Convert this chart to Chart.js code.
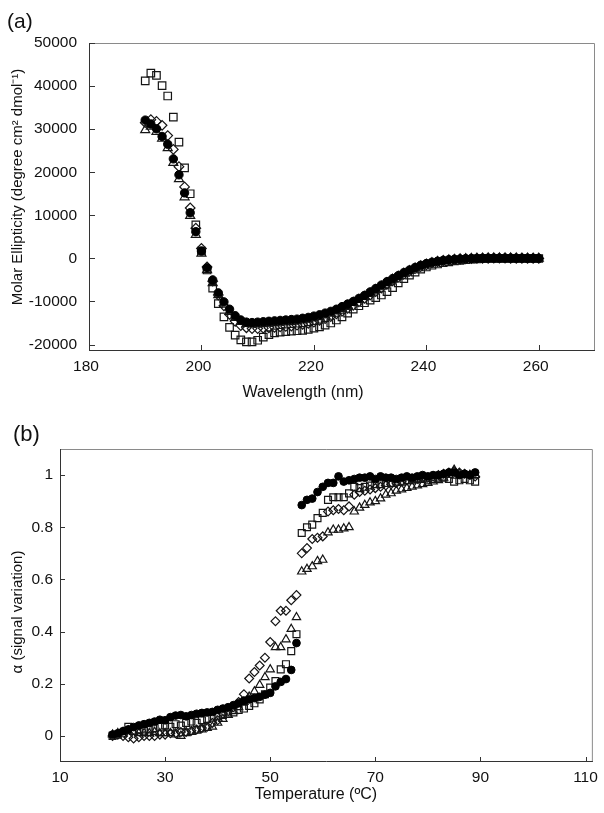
<!DOCTYPE html>
<html><head><meta charset="utf-8">
<script src="https://cdn.jsdelivr.net/npm/chart.js@4"></script>
<style>
body{margin:0;background:#fff;width:604px;height:813px;position:relative;overflow:hidden;font-family:'Liberation Sans',Arial,sans-serif}
canvas{position:absolute;left:0}
.lbl{position:absolute;line-height:1;color:#111}
</style></head><body>
<canvas id="ca" width="604" height="410" style="top:0"></canvas>
<canvas id="cb" width="604" height="403" style="top:410px"></canvas>
<div class="lbl" style="left:7px;top:10px;font-size:21px">(a)</div>
<div class="lbl" style="left:13px;top:423px;font-size:22px">(b)</div>
<script>
const FONT = "'Liberation Sans', Arial, sans-serif";

// ---------- Panel (a): CD spectra ----------
const wavelength = [190,191,192,193,194,195,196,197,198,199,200,201,202,203,204,205,206,207,208,209,210,211,212,213,214,215,216,217,218,219,220,221,222,223,224,225,226,227,228,229,230,231,232,233,234,235,236,237,238,239,240,241,242,243,244,245,246,247,248,249,250,251,252,253,254,255,256,257,258,259,260];
const circlesA = [32100,31200,30100,28300,26500,23100,19400,15200,10600,6200,
  1700,-2200,-5000,-8000,-10100,-11800,-13300,-14300,-14800,-14900,
  -14800,-14700,-14600,-14500,-14400,-14300,-14200,-14100,-13900,-13700,
  -13400,-13100,-12700,-12300,-11800,-11200,-10600,-10000,-9300,-8600,
  -7800,-7000,-6200,-5400,-4700,-4000,-3300,-2700,-2100,-1600,
  -1200,-900,-650,-450,-300,-200,-120,-60,-20,10,
  30,50,60,70,70,60,50,40,30,20,10];
const squaresA = [41200,43000,42500,40100,37700,32800,27000,21000,15000,7800,
  1700,-2700,-6900,-10500,-13600,-16000,-17800,-18900,-19400,-19400,
  -19000,-18300,-17700,-17300,-17100,-17000,-16900,-16800,-16700,-16500,
  -16200,-15900,-15500,-15000,-14300,-13600,-12700,-11800,-11000,-10300,
  -9700,-9100,-8500,-7700,-6800,-5700,-4700,-3900,-3200,-2500,
  -2000,-1600,-1300,-1000,-800,-600,-450,-300,-200,-120,
  -60,-20,0,10,20,20,10,0,-10,-20,-30];
const diamondsA = [31500,32200,31800,30900,28500,25300,21300,16600,11700,7000,
  2300,-2000,-5300,-8500,-11000,-13000,-14600,-15600,-16100,-16300,
  -16300,-16200,-16100,-16000,-15900,-15800,-15700,-15500,-15300,-15100,
  -14800,-14400,-14000,-13500,-12900,-12300,-11600,-10900,-10100,-9300,
  -8500,-7700,-6900,-6000,-5200,-4400,-3700,-3000,-2400,-1900,
  -1500,-1100,-800,-600,-420,-300,-200,-110,-50,0,
  20,30,40,40,40,30,20,10,0,-10,-20];
const trianglesA = [29800,30600,29400,27800,25600,22200,18400,14200,9900,5500,
  1100,-2700,-5700,-8500,-10700,-12400,-13800,-14700,-15200,-15300,
  -15300,-15200,-15100,-15000,-14900,-14800,-14700,-14600,-14400,-14200,
  -13900,-13600,-13200,-12800,-12300,-11700,-11000,-10300,-9600,-8900,
  -8100,-7300,-6500,-5700,-4900,-4200,-3500,-2900,-2300,-1800,
  -1400,-1050,-780,-560,-400,-270,-170,-100,-40,0,
  20,40,50,50,50,40,30,20,10,0,-10];
const xTicksA = [180,200,220,240,260];
const yTicksA = [-20000,-10000,0,10000,20000,30000,40000,50000];

// ---------- Panel (b): thermal unfolding ----------
const temperature = [20,21,22,23,24,25,26,27,28,29,30,31,32,33,34,35,36,37,38,39,40,41,42,43,44,45,46,47,48,49,50,51,52,53,54,55,56,57,58,59,60,61,62,63,64,65,66,67,68,69,70,71,72,73,74,75,76,77,78,79,80,81,82,83,84,85,86,87,88,89];
const circlesB = [0.005,0.01,0.018,0.025,0.034,0.04,0.045,0.05,0.055,0.062,
  0.06,0.072,0.078,0.08,0.075,0.08,0.085,0.088,0.09,0.092,
  0.1,0.105,0.11,0.118,0.125,0.135,0.14,0.145,0.15,0.158,
  0.165,0.19,0.207,0.218,0.253,0.356,0.885,0.905,0.91,0.935,
  0.955,0.97,0.97,0.995,0.975,0.98,0.985,0.99,0.99,0.995,
  0.985,0.995,0.99,0.99,0.985,0.99,0.995,0.99,0.995,1.0,
  0.995,1.0,1.0,1.005,1.01,1.01,1.0,1.005,1.0,1.01];
const squaresB = [0.0,0.005,0.01,0.035,0.02,0.025,0.02,0.025,0.03,0.035,
  0.04,0.035,0.045,0.04,0.05,0.055,0.05,0.06,0.065,0.07,
  0.075,0.08,0.085,0.09,0.1,0.105,0.115,0.125,0.14,0.16,
  0.185,0.21,0.255,0.275,0.325,0.39,0.778,0.8,0.81,0.835,
  0.855,0.905,0.915,0.915,0.915,0.93,0.955,0.95,0.955,0.96,
  0.965,0.965,0.97,0.97,0.975,0.975,0.98,0.98,0.985,0.985,
  0.98,0.985,0.99,0.99,0.985,0.975,0.98,0.985,0.98,0.975];
const diamondsB = [0.0,0.005,0.0,-0.005,-0.01,-0.005,0.0,0.0,0.0,0.005,
  0.005,0.01,0.01,0.015,0.015,0.02,0.025,0.03,0.035,0.05,
  0.06,0.085,0.095,0.11,0.13,0.16,0.22,0.245,0.27,0.3,
  0.36,0.44,0.48,0.48,0.52,0.54,0.7,0.72,0.755,0.76,
  0.765,0.86,0.865,0.87,0.865,0.88,0.925,0.935,0.94,0.945,
  0.95,0.955,0.96,0.965,0.97,0.975,0.98,0.985,0.985,0.99,
  0.99,0.995,1.0,1.005,1.01,1.015,1.01,1.005,1.0,0.995];
const trianglesB = [0.005,0.01,0.015,0.02,0.015,0.01,0.01,0.01,0.015,0.01,
  0.01,0.01,0.005,0.0,0.01,0.015,0.02,0.025,0.03,0.035,
  0.05,0.065,0.08,0.095,0.11,0.13,0.15,0.17,0.195,0.225,
  0.255,0.34,0.34,0.37,0.41,0.455,0.63,0.64,0.65,0.67,
  0.675,0.78,0.79,0.79,0.795,0.8,0.86,0.875,0.885,0.895,
  0.9,0.91,0.925,0.93,0.94,0.945,0.95,0.955,0.96,0.965,
  0.97,0.975,0.98,0.99,1.0,1.02,1.005,1.0,1.0,1.0];
const xTicksB = [10,30,50,70,90,110];
const yTicksB = [0,0.2,0.4,0.6,0.8,1];

const pts = (xs, ys) => xs.map((x, i) => ({x, y: ys[i]}));

function datasets(xs, c, s, d, t, sc) {
  const open = 'rgba(0,0,0,0)', ink = '#151515';
  return [
    {data: pts(xs, c), pointStyle: 'circle', pointRadius: 4.2*sc, backgroundColor: '#000', borderColor: '#000', borderWidth: 1},
    {data: pts(xs, s), pointStyle: 'rect', pointRadius: 5.3*sc, backgroundColor: open, borderColor: ink, borderWidth: 1.2},
    {data: pts(xs, d), pointStyle: 'rectRot', pointRadius: 4.8*sc, backgroundColor: open, borderColor: ink, borderWidth: 1.2},
    {data: pts(xs, t), pointStyle: 'triangle', pointRadius: 5.2*sc, backgroundColor: open, borderColor: ink, borderWidth: 1.2}
  ].map(ds => Object.assign(ds, {showLine: false, pointHoverRadius: ds.pointRadius}));
}

const framePlugin = {
  id: 'frame',
  beforeDatasetsDraw(chart, args, o) {
    const {ctx, chartArea: a} = chart;
    const xs = chart.scales.x, ys = chart.scales.y;
    ctx.save();
    ctx.lineWidth = 1;
    ctx.strokeStyle = '#8a8a8a';
    ctx.beginPath();
    ctx.moveTo(a.left, a.top + 0.5); ctx.lineTo(a.right - 0.5, a.top + 0.5); ctx.lineTo(a.right - 0.5, a.bottom);
    ctx.stroke();
    ctx.strokeStyle = '#333';
    ctx.beginPath();
    ctx.moveTo(a.left + 0.5, a.top); ctx.lineTo(a.left + 0.5, a.bottom - 0.5); ctx.lineTo(a.right, a.bottom - 0.5);
    xs.ticks.forEach(t => { const p = Math.round(xs.getPixelForValue(t.value)) + 0.5; ctx.moveTo(p, a.bottom); ctx.lineTo(p, a.bottom - o.tick); });
    ys.ticks.forEach(t => { const p = Math.round(ys.getPixelForValue(t.value)) + 0.5; ctx.moveTo(a.left, p); ctx.lineTo(a.left + o.tick, p); });
    ctx.stroke();
    ctx.restore();
  },
  afterDraw(chart, args, o) {
    const ctx = chart.ctx;
    ctx.save();
    ctx.fillStyle = '#111';
    ctx.textAlign = 'center';
    ctx.textBaseline = 'middle';
    ctx.font = o.xTitle.size + 'px ' + FONT;
    ctx.fillText(o.xTitle.text, o.xTitle.x, o.xTitle.y);
    ctx.translate(o.yTitle.x, o.yTitle.y);
    ctx.rotate(-Math.PI / 2);
    ctx.font = o.yTitle.size + 'px ' + FONT;
    ctx.fillText(o.yTitle.text, 0, 0);
    ctx.restore();
  }
};

function axis(min, max, ticks, size, pad, extra) {
  return Object.assign({
    type: 'linear', min, max,
    grid: {display: false, drawTicks: false},
    border: {display: false},
    afterBuildTicks: s => { s.ticks = ticks.map(v => ({value: v})); },
    ticks: {padding: pad, color: '#111', font: {family: FONT, size: 15.5}, autoSkip: false, maxRotation: 0,
      callback: v => String(v)}
  }, extra);
}

new Chart(document.getElementById('ca'), {
  type: 'scatter',
  data: {datasets: datasets(wavelength, circlesA, squaresA, diamondsA, trianglesA, 1)},
  options: {
    responsive: false, animation: false, devicePixelRatio: 1,
    layout: {padding: {left: 0, right: 9, top: 43, bottom: 0}},
    plugins: {
      legend: {display: false}, tooltip: {enabled: false},
      frame: {tick: 6,
        xTitle: {text: 'Wavelength (nm)', x: 303, y: 393, size: 16},
        yTitle: {text: 'Molar Ellipticity (degree cm² dmol⁻¹)', x: 18, y: 187, size: 15}}
    },
    scales: {
      x: (() => { const a = axis(180, 270, xTicksA, 15.5, 6, {afterFit: s => { s.height = 59; }}); a.ticks.labelOffset = -3; return a; })(),
      y: axis(-21500, 50000, yTicksA, 15.5, 12, {afterFit: s => { s.width = 89; }})
    }
  },
  plugins: [framePlugin]
});

new Chart(document.getElementById('cb'), {
  type: 'scatter',
  data: {datasets: datasets(temperature, circlesB, squaresB, diamondsB, trianglesB, 0.92)},
  options: {
    responsive: false, animation: false, devicePixelRatio: 1,
    layout: {padding: {left: 0, right: 10, top: 39, bottom: 0}},
    plugins: {
      legend: {display: false}, tooltip: {enabled: false},
      frame: {tick: 5,
        xTitle: {text: 'Temperature (ºC)', x: 316, y: 385, size: 16},
        yTitle: {text: 'α (signal variation)', x: 18, y: 202, size: 15}}
    },
    scales: {
      x: axis(10, 111.4, xTicksB, 15.5, 6, {afterFit: s => { s.height = 51; }}),
      y: axis(-0.1, 1.1, yTicksB, 15.5, 7, {afterFit: s => { s.width = 60; }})
    }
  },
  plugins: [framePlugin]
});
</script>
</body></html>
